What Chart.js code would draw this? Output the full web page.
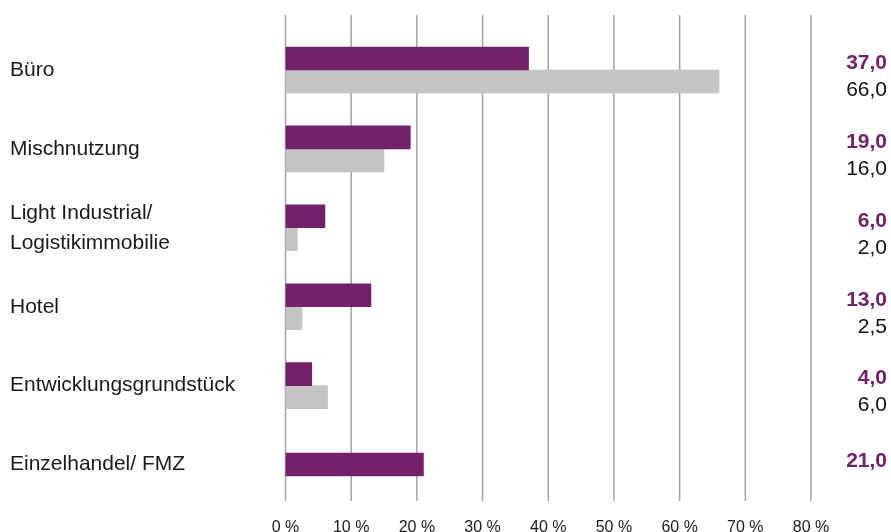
<!DOCTYPE html>
<html>
<head>
<meta charset="utf-8">
<script src="https://cdn.jsdelivr.net/npm/chart.js@4.4.0/dist/chart.umd.min.js"></script>
<style>
  html, body { margin: 0; padding: 0; background: #fff; }
  #wrap { width: 891px; height: 532px; }
</style>
</head>
<body>
<div id="wrap"><canvas id="chart"></canvas></div>
<script>
const categories = [
  "Büro",
  "Mischnutzung",
  ["Light Industrial/", "Logistikimmobilie"],
  "Hotel",
  "Entwicklungsgrundstück",
  "Einzelhandel/ FMZ"
];
const purpleValues = [37, 19, 6, 13, 4, 21];
const greyValues = [66, 15, 1.8, 2.5, 6.4, null];
const purpleLabels = ["37,0", "19,0", "6,0", "13,0", "4,0", "21,0"];
const greyLabels = ["66,0", "16,0", "2,0", "2,5", "6,0", ""];

const PURPLE = "#73226a";
const GREY = "#c4c4c4";
const FONT = "'Liberation Sans', Arial, sans-serif";

// vertical grid lines, a bit taller than the plot area
const gridPlugin = {
  id: "gridLines",
  beforeDatasetsDraw(chart) {
    const ctx = chart.ctx;
    const xs = chart.scales.x;
    ctx.save();
    ctx.strokeStyle = "#a3a3a3";
    ctx.lineWidth = 1.5;
    xs.ticks.forEach((t) => {
      const x = xs.getPixelForValue(t.value);
      ctx.beginPath();
      ctx.moveTo(x, 15);
      ctx.lineTo(x, 501);
      ctx.stroke();
    });
    ctx.restore();
  }
};

// value column on the right
const valuePlugin = {
  id: "valueColumn",
  afterDatasetsDraw(chart) {
    const ctx = chart.ctx;
    const ys = chart.scales.y;
    ctx.save();
    ctx.textAlign = "right";
    ctx.textBaseline = "middle";
    categories.forEach((c, i) => {
      const y = ys.getPixelForValue(i);
      const hasGrey = greyValues[i] !== null;
      ctx.font = "bold 21px " + FONT;
      ctx.fillStyle = PURPLE;
      ctx.fillText(purpleLabels[i], 887, hasGrey ? y - 7 : y - 3);
      if (hasGrey) {
        ctx.font = "21px " + FONT;
        ctx.fillStyle = "#111";
        ctx.fillText(greyLabels[i], 887, y + 20);
      }
    });
    ctx.restore();
  }
};

new Chart(document.getElementById("chart"), {
  type: "bar",
  data: {
    labels: categories,
    datasets: [
      { data: purpleValues, backgroundColor: PURPLE, barThickness: 23 },
      { data: greyValues, backgroundColor: GREY, barThickness: 23 }
    ]
  },
  options: {
    indexAxis: "y",
    responsive: true,
    maintainAspectRatio: false,
    animation: false,
    skipNull: true,
    layout: { padding: { top: 30.5, left: 10, right: 80, bottom: 0 } },
    plugins: { legend: { display: false }, tooltip: { enabled: false } },
    scales: {
      x: {
        min: 0,
        max: 80,
        grid: { display: false, drawTicks: false },
        border: { display: false },
        ticks: {
          stepSize: 10,
          padding: 14,
          maxRotation: 0,
          color: "#1a1a1a",
          font: { family: FONT, size: 16 },
          callback: (v) => v + " %"
        },
        afterFit: (s) => { s.height = 28; }
      },
      y: {
        grid: { display: false, drawTicks: false },
        border: { display: false },
        ticks: {
          crossAlign: "far",
          autoSkip: false,
          padding: 0,
          color: "#1a1a1a",
          font: { family: FONT, size: 21, lineHeight: 1.43 }
        },
        afterFit: (s) => { s.width = 275.5; }
      }
    }
  },
  plugins: [gridPlugin, valuePlugin]
});
</script>
</body>
</html>
